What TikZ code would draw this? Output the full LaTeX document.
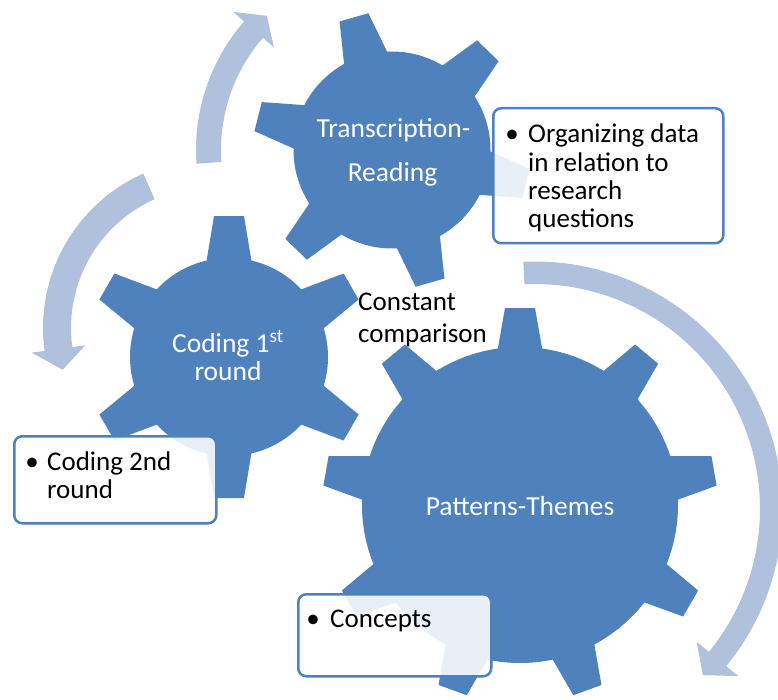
\documentclass[tikz,border=0pt]{standalone}
\usepackage{fontspec}
\setmainfont{Carlito}
\definecolor{gearblue}{HTML}{4F81BD}
\definecolor{arrowblue}{HTML}{AFC1DD}
\tikzset{
  gearfill/.style={fill=gearblue, draw=none},
  arrowfill/.style={fill=arrowblue, draw=none},
  notebox/.style={draw=gearblue, line width=2.5pt, rounded corners=8pt, fill=white, fill opacity=0.88, inner sep=0pt, anchor=north west},
  boxtext/.style={anchor=base west, inner sep=0pt, font=\fontsize{27}{32}\selectfont, text=black},
  geartext/.style={anchor=base, inner sep=0pt, font=\fontsize{27.5}{32}\selectfont, text=white},
  bul/.style={anchor=base, inner sep=0pt, font=\fontsize{27}{32}\selectfont, text=black}
}
% gear: cx, cy, body radius, outer radius, tooth angles (pixel space)
\newcommand\drawgear[5]{%
  \fill[gearfill] (#1,#2) circle[radius=#3];
  \foreach \a in {#5}{%
    \pgfmathsetmacro\rbi{veclen(#3-12,24)}%
    \pgfmathsetmacro\dbi{atan(24/(#3-12))}%
    \pgfmathsetmacro\rto{veclen(#4,15)}%
    \pgfmathsetmacro\dto{atan(15/#4)}%
    \fill[gearfill]
      ({#1+\rbi*cos(\a-\dbi)},{#2+\rbi*sin(\a-\dbi)}) --
      ({#1+\rto*cos(\a-\dto)},{#2+\rto*sin(\a-\dto)}) --
      ({#1+\rto*cos(\a+\dto)},{#2+\rto*sin(\a+\dto)}) --
      ({#1+\rbi*cos(\a+\dbi)},{#2+\rbi*sin(\a+\dbi)}) -- cycle;
  }%
}
% circular arrow: cx, cy, rin, rout, start, base, tip, head half width
\newcommand\drawcarrow[8]{%
  \fill[arrowfill]
    plot[domain=#5:#6, samples=80, variable=\t] ({#1+#4*cos(\t)},{#2+#4*sin(\t)})
    -- ({#1+((#3+#4)/2+#8)*cos(#6)},{#2+((#3+#4)/2+#8)*sin(#6)})
    -- ({#1+((#3+#4)/2)*cos(#7)},{#2+((#3+#4)/2)*sin(#7)})
    -- ({#1+((#3+#4)/2-#8)*cos(#6)},{#2+((#3+#4)/2-#8)*sin(#6)})
    -- plot[domain=#6:#5, samples=80, variable=\t] ({#1+#3*cos(\t)},{#2+#3*sin(\t)})
    -- cycle;
}
\begin{document}
\begin{tikzpicture}[x=1pt, y=-1pt]
\useasboundingbox (0,0) rectangle (778,700);
\clip (0,0) rectangle (778,700);
% arrows
\drawcarrow{392}{150}{171}{196}{176}{221}{227}{27}
\drawcarrow{212}{328}{141}{169}{246}{172.2}{164.4}{27}
\drawcarrow{535}{509}{225}{247.5}{267.3}{399.4}{404.7}{27}
% gears
\drawgear{392}{150}{98.5}{138}{14,74,134,194,254,314}
\drawgear{229}{357}{99}{141}{30,90,150,210,270,330}
\drawgear{520}{505}{158}{197}{270,230,190,150,110,70,30,-10,-50}
% gear labels
\node[geartext] (tr1) at (393.5,138) {Transcription-};
\node[geartext] (tr2) at (392.5,182) {Reading};
\node[geartext] (cr1) at (228,352) {Coding 1\textsuperscript{st}};
\node[geartext] (cr2) at (228,380) {round};
\node[geartext] (pt) at (520,515) {Patterns-Themes};
% constant comparison
\node[boxtext] (cc1) at (358,310) {Constant};
\node[boxtext] (cc2) at (358,342) {comparison};
% boxes
\node[notebox, minimum width=230pt, minimum height=135pt] (box1) at (492,107) {};
\node[notebox, minimum width=202pt, minimum height=87pt] (box2) at (13,435) {};
\node[notebox, minimum width=193pt, minimum height=82pt] (box3) at (297,593) {};
% box texts
\node[bul] (d1) at (512,143) {•};
\node[boxtext] (o1) at (528,143) {Organizing data};
\node[boxtext] (o2) at (528,171.5) {in relation to};
\node[boxtext] (o3) at (528,200) {research};
\node[boxtext] (o4) at (528,228) {questions};
\node[bul] (d2) at (32,470) {•};
\node[boxtext] (c1) at (47,470) {Coding 2nd};
\node[boxtext] (c2) at (47,498) {round};
\node[bul] (d3) at (313,627) {•};
\node[boxtext] (k1) at (330,627) {Concepts};
\end{tikzpicture}
\end{document}
